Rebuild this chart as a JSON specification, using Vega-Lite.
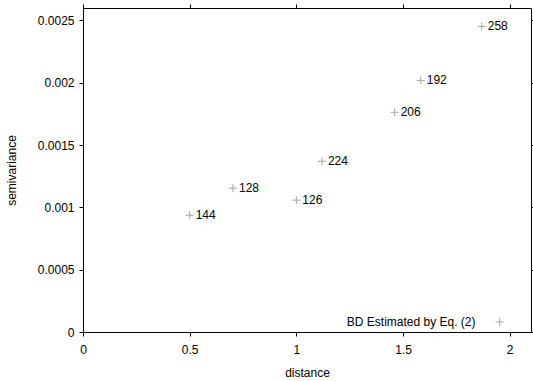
{
  "$schema": "https://vega.github.io/schema/vega-lite/v6.json",
  "width": 448,
  "height": 324,
  "autosize": {"type": "none"},
  "padding": {"left": 83, "top": 8, "right": 2, "bottom": 49},
  "background": "white",
  "config": {
    "font": "Liberation Sans",
    "view": {"stroke": "black", "strokeWidth": 1},
    "axis": {
      "grid": false,
      "domainColor": "black",
      "tickColor": "black",
      "tickSize": 4,
      "labelFont": "Liberation Sans",
      "labelFontSize": 12,
      "labelColor": "black",
      "titleFont": "Liberation Sans",
      "titleFontSize": 12,
      "titleFontWeight": "normal",
      "titleColor": "black"
    }
  },
  "datasets": {
    "pts": [
      {"distance": 0.50, "semivariance": 0.000937, "n": "144"},
      {"distance": 0.703, "semivariance": 0.001154, "n": "128"},
      {"distance": 1.0, "semivariance": 0.001058, "n": "126"},
      {"distance": 1.12, "semivariance": 0.00137, "n": "224"},
      {"distance": 1.461, "semivariance": 0.001763, "n": "206"},
      {"distance": 1.583, "semivariance": 0.002019, "n": "192"},
      {"distance": 1.869, "semivariance": 0.002452, "n": "258"}
    ],
    "key": [
      {"distance": 1.953, "semivariance": 0.00008, "textx": 1.84, "label": "BD Estimated by Eq. (2)"}
    ]
  },
  "resolve": {"axis": {"x": "independent", "y": "independent"}},
  "layer": [
    {
      "data": {"name": "pts"},
      "mark": {"type": "point", "shape": "M-1,0H1M0,-1V1", "filled": false, "stroke": "#808080", "strokeWidth": 1, "size": 64},
      "encoding": {
        "x": {"field": "distance", "type": "quantitative", "scale": {"domain": [0, 2.1], "nice": false, "zero": false},
              "axis": {"orient": "bottom", "values": [0, 0.5, 1, 1.5, 2], "format": "~g", "title": "distance", "labelPadding": 8, "titlePadding": 12, "labelFlush": false}},
        "y": {"field": "semivariance", "type": "quantitative", "scale": {"domain": [0, 0.0026], "nice": false, "zero": false},
              "axis": {"orient": "left", "values": [0, 0.0005, 0.001, 0.0015, 0.002, 0.0025], "format": "~g", "title": "semivariance", "labelPadding": 5, "titlePadding": 19, "labelFlush": false}}
      }
    },
    {
      "data": {"name": "pts"},
      "mark": {"type": "text", "align": "left", "baseline": "middle", "dx": 6, "fontSize": 12, "font": "Liberation Sans", "color": "black"},
      "encoding": {
        "x": {"field": "distance", "type": "quantitative", "axis": {"orient": "top", "values": [0, 0.5, 1, 1.5, 2], "labels": false, "title": null, "domain": false}},
        "y": {"field": "semivariance", "type": "quantitative", "axis": {"orient": "right", "values": [0, 0.0005, 0.001, 0.0015, 0.002, 0.0025], "labels": false, "title": null, "domain": false}},
        "text": {"field": "n"}
      }
    },
    {
      "data": {"name": "key"},
      "mark": {"type": "point", "shape": "M-1,0H1M0,-1V1", "filled": false, "stroke": "#808080", "strokeWidth": 1, "size": 64},
      "encoding": {
        "x": {"field": "distance", "type": "quantitative", "axis": null},
        "y": {"field": "semivariance", "type": "quantitative", "axis": null}
      }
    },
    {
      "data": {"name": "key"},
      "mark": {"type": "text", "align": "right", "baseline": "middle", "fontSize": 12, "font": "Liberation Sans", "color": "black"},
      "encoding": {
        "x": {"field": "textx", "type": "quantitative", "axis": null},
        "y": {"field": "semivariance", "type": "quantitative", "axis": null},
        "text": {"field": "label"}
      }
    }
  ]
}
